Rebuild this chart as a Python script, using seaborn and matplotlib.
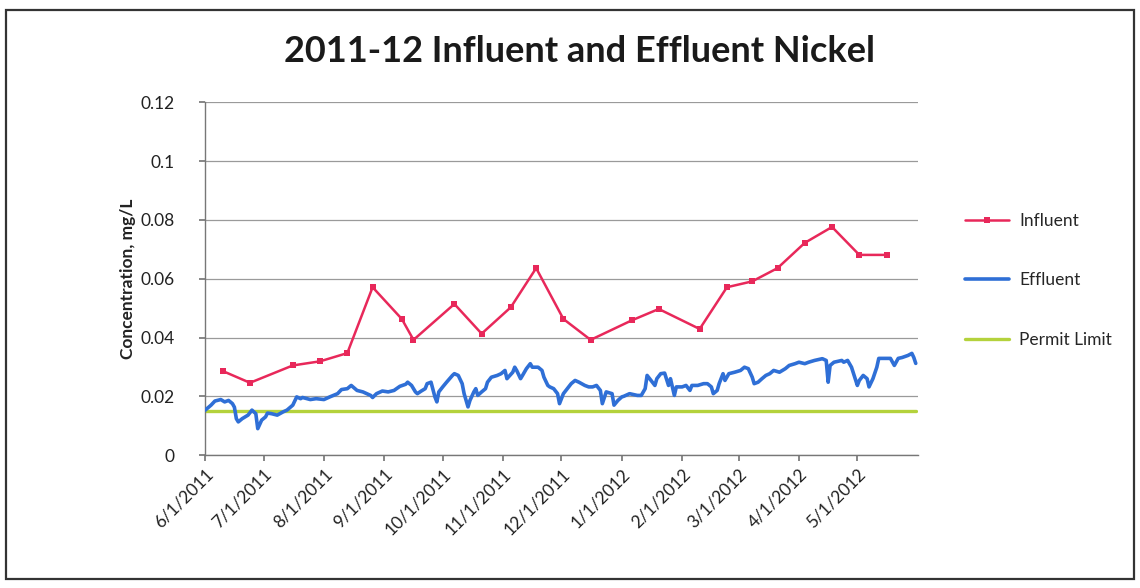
import numpy as np
import pandas as pd
import matplotlib
matplotlib.use("Agg")
import matplotlib.pyplot as plt
import matplotlib.dates as mdates
from matplotlib.patches import Rectangle
import seaborn as sns

START = pd.Timestamp("2011-06-01")
END = pd.Timestamp("2012-06-01")

# influent samples: days after 6/1/2011 and concentration (mg/L)
INFLUENT_DAYS = [9, 23, 45, 59, 73, 86, 101, 107, 128, 142, 157, 170,
                 184, 198, 219, 233, 254, 268, 281, 294, 308, 322, 336, 350]
INFLUENT_VALUES = [0.0286, 0.0246, 0.0305, 0.0319, 0.0347, 0.0571, 0.0463, 0.0392,
                   0.0514, 0.0413, 0.0503, 0.0636, 0.0463, 0.0392, 0.0458, 0.0497,
                   0.0429, 0.0571, 0.0591, 0.0636, 0.0722, 0.0776, 0.0681, 0.0681]

# effluent samples: days after 6/1/2011 and concentration (mg/L)
EFFLUENT_DAYS = [0, 3, 5, 8, 10, 12, 14, 15, 16, 17, 19, 22, 24, 26, 27, 29, 31, 32,
                 34, 37, 40, 42, 45, 47, 49, 50, 54, 57, 61, 64, 68, 70, 73, 75, 78,
                 81, 85, 86, 88, 91, 94, 97, 100, 103, 104, 106, 108, 109, 111, 113,
                 114, 116, 118, 119, 120, 122, 124, 127, 128, 130, 132, 133, 135, 136,
                 138, 139, 140, 142, 144, 145, 147, 150, 152, 154, 155, 158, 159, 160,
                 162, 163, 165, 167, 168, 171, 173, 174, 176, 177, 179, 181, 182, 184,
                 186, 188, 190, 192, 195, 197, 199, 201, 203, 204, 206, 209, 210, 212,
                 214, 215, 218, 222, 224, 226, 227, 229, 231, 232, 234, 236, 238, 239,
                 241, 242, 245, 247, 249, 250, 253, 256, 258, 260, 261, 263, 264, 266,
                 267, 269, 272, 275, 277, 279, 281, 282, 284, 286, 288, 290, 292, 295,
                 298, 300, 303, 305, 308, 310, 313, 317, 319, 320, 321, 323, 327, 328,
                 330, 332, 335, 336, 338, 340, 341, 343, 345, 346, 349, 352, 354, 356,
                 358, 361, 363, 364, 365]
EFFLUENT_VALUES = [0.0153, 0.0170, 0.0184, 0.0189, 0.0181, 0.0186, 0.0175, 0.0163,
                   0.0124, 0.0113, 0.0124, 0.0136, 0.0153, 0.0141, 0.0090, 0.0119,
                   0.0130, 0.0143, 0.0141, 0.0136, 0.0147, 0.0153, 0.0170, 0.0198,
                   0.0192, 0.0196, 0.0189, 0.0192, 0.0189, 0.0198, 0.0209, 0.0223,
                   0.0226, 0.0237, 0.0220, 0.0215, 0.0203, 0.0196, 0.0209, 0.0218,
                   0.0215, 0.0220, 0.0234, 0.0241, 0.0248, 0.0237, 0.0215, 0.0209,
                   0.0218, 0.0226, 0.0243, 0.0248, 0.0198, 0.0181, 0.0215, 0.0232,
                   0.0248, 0.0271, 0.0277, 0.0271, 0.0243, 0.0209, 0.0164, 0.0186,
                   0.0215, 0.0226, 0.0203, 0.0215, 0.0226, 0.0248, 0.0265, 0.0271,
                   0.0277, 0.0288, 0.0260, 0.0282, 0.0299, 0.0288, 0.0260, 0.0271,
                   0.0294, 0.0311, 0.0299, 0.0299, 0.0288, 0.0265, 0.0237, 0.0232,
                   0.0226, 0.0209, 0.0175, 0.0209, 0.0226, 0.0243, 0.0254, 0.0248,
                   0.0237, 0.0232, 0.0232, 0.0237, 0.0220, 0.0175, 0.0215, 0.0209,
                   0.0170, 0.0186, 0.0198, 0.0200, 0.0209, 0.0203, 0.0203, 0.0226,
                   0.0271, 0.0254, 0.0237, 0.0260, 0.0277, 0.0279, 0.0237, 0.0260,
                   0.0203, 0.0232, 0.0232, 0.0237, 0.0220, 0.0237, 0.0237, 0.0243,
                   0.0243, 0.0232, 0.0209, 0.0220, 0.0243, 0.0277, 0.0254, 0.0277,
                   0.0282, 0.0288, 0.0299, 0.0294, 0.0265, 0.0243, 0.0248, 0.0260,
                   0.0271, 0.0277, 0.0288, 0.0282, 0.0294, 0.0305, 0.0311, 0.0316,
                   0.0311, 0.0316, 0.0322, 0.0328, 0.0322, 0.0248, 0.0305, 0.0316,
                   0.0322, 0.0316, 0.0322, 0.0299, 0.0237, 0.0254, 0.0271, 0.0260,
                   0.0232, 0.0260, 0.0299, 0.0329, 0.0329, 0.0329, 0.0305, 0.0329,
                   0.0332, 0.0339, 0.0346, 0.0332, 0.0312]

PERMIT_LIMIT = 0.015
PERMIT_DAYS = [0, 365]

Y_TICKS = [0, 0.02, 0.04, 0.06, 0.08, 0.1, 0.12]
Y_TICK_LABELS = ["0", "0.02", "0.04", "0.06", "0.08", "0.1", "0.12"]

RED = "#e8285a"
BLUE = "#2f6fd6"
GREEN = "#b4d23c"

sns.set_theme(style="white")
plt.rcParams["font.family"] = ["Lato", "DejaVu Sans"]


def to_dates(days):
    return START + pd.to_timedelta(days, unit="D")


influent = pd.DataFrame({"date": to_dates(INFLUENT_DAYS), "value": INFLUENT_VALUES})
effluent = pd.DataFrame({"date": to_dates(EFFLUENT_DAYS), "value": EFFLUENT_VALUES})
permit = pd.DataFrame({"date": to_dates(PERMIT_DAYS), "value": [PERMIT_LIMIT] * 2})

fig = plt.figure(figsize=(11.4, 5.88), dpi=100)
ax = fig.add_axes([0.18, 0.226, 0.625, 0.6])

sns.lineplot(data=influent, x="date", y="value", ax=ax, color=RED, linewidth=1.8,
             marker="s", markersize=4, markeredgewidth=0, label="Influent", zorder=4)
sns.lineplot(data=effluent, x="date", y="value", ax=ax, color=BLUE, linewidth=2.6,
             label="Effluent", zorder=3)
sns.lineplot(data=permit, x="date", y="value", ax=ax, color=GREEN, linewidth=2.4,
             label="Permit Limit", zorder=2)

ax.set_xlim(START, END)
ax.set_ylim(0, 0.12)
ax.set_yticks(Y_TICKS)
ax.set_yticklabels(Y_TICK_LABELS, fontsize=12.5, color="#222222")
ax.yaxis.grid(True, color="#9a9a9a", linewidth=0.9)
ax.set_axisbelow(True)

month_ticks = pd.date_range("2011-06-01", "2012-05-01", freq="MS")
ax.set_xticks(month_ticks)
ax.xaxis.set_major_formatter(mdates.DateFormatter("%-m/%-d/%Y"))
for lbl in ax.get_xticklabels():
    lbl.set_rotation(45)
    lbl.set_ha("right")
    lbl.set_rotation_mode("anchor")
    lbl.set_fontsize(12.5)
    lbl.set_color("#222222")

ax.tick_params(axis="both", direction="out", length=4, color="#777777", left=True, bottom=True)
ax.tick_params(axis="y", pad=18)
for side in ["top", "right"]:
    ax.spines[side].set_visible(False)
for side in ["left", "bottom"]:
    ax.spines[side].set_color("#777777")
    ax.spines[side].set_linewidth(1.0)

ax.set_xlabel("")
ax.set_ylabel("Concentration, mg/L", fontsize=12.5, fontweight="bold", color="#222222")
ax.yaxis.set_label_coords(-0.097, 0.5)

fig.suptitle("2011-12 Influent and Effluent Nickel", x=0.508, y=0.94, fontsize=26,
             fontweight="bold", color="#1a1a1a")

leg = ax.legend(loc="center left", bbox_to_anchor=(1.045, 0.495), frameon=False,
                fontsize=12.5, handlelength=2.5, labelspacing=2.5, handletextpad=0.6)

fig.patches.append(Rectangle((0.005, 0.015), 0.99, 0.968, transform=fig.transFigure,
                             fill=False, edgecolor="#333333", linewidth=1.6))

fig.savefig("out.png", dpi=100)
